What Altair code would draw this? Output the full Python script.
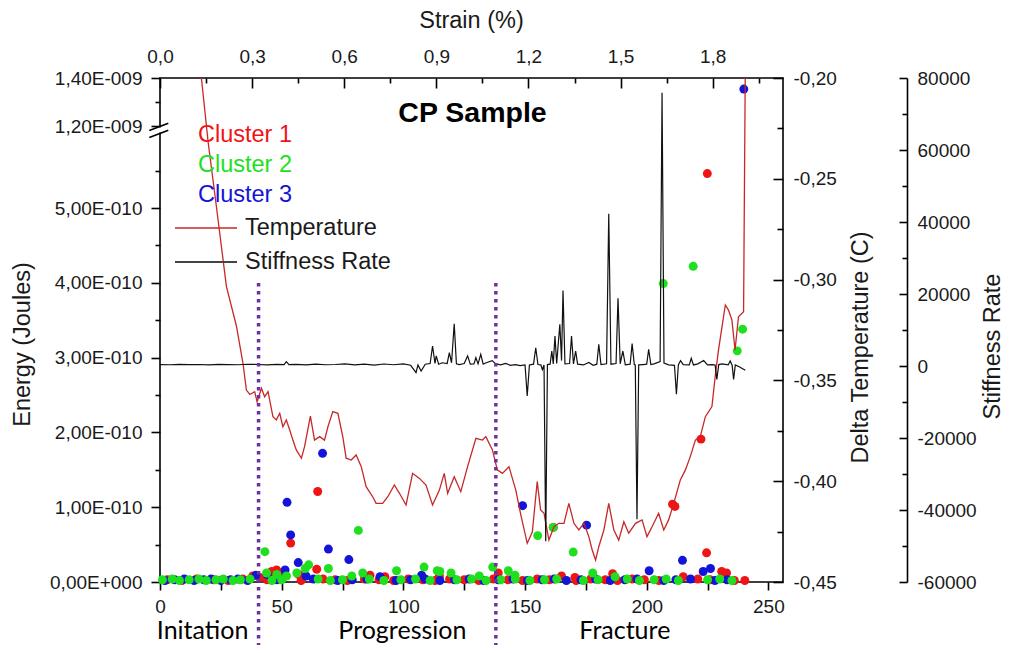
import altair as alt
import pandas as pd

# ---------------- data ----------------
CLUSTERS = ["Cluster 1", "Cluster 2", "Cluster 3"]
CLUSTER_COLORS = ["#f01414", "#1ee01e", "#1414d8"]

# energy in units of 1E-010 J
C1_X = [64.8, 53.7, 47.9, 45.9, 38.1, 64.4, 86.3, 92.4, 114.8, 139.0, 161.6, 165.0, 170.5,
        186.0, 210.6, 211.6, 215.0, 222.3, 224.6, 224.9, 230.8, 232.8, 240.3, 50.0, 57.0, 41.0,
        3, 9, 15, 22, 28, 34, 44, 58, 67, 72, 77, 84, 90, 96, 102, 108, 113, 119, 125, 131,
        137, 143, 149, 155, 160, 171, 177, 183, 188, 194, 199, 205, 221, 226, 236]
C1_E = [1.21, 0.52, 0.16, 0.14, 0.08, 0.17, 0.09, 0.07, 0.08, 0.12, 0.73, 0.08, 0.06,
        0.11, 1.04, 1.01, 0.07, 1.91, 0.39, 5.46, 0.14, 0.12, 0.02, 0.12, 0.10, 0.06,
        0.03, 0.02, 0.04, 0.03, 0.02, 0.04, 0.03, 0.02, 0.04, 0.03, 0.02, 0.04, 0.03, 0.02, 0.04, 0.03,
        0.02, 0.04, 0.03, 0.02, 0.04, 0.03, 0.02, 0.04, 0.03, 0.02, 0.04, 0.03, 0.02, 0.04, 0.03, 0.02,
        0.04, 0.03, 0.02]

C2_X = [43.1, 61.1, 59.7, 69.2, 81.5, 43.8, 56.2, 78.8, 83.3, 97.2, 108.5, 113.9, 115.0, 119.6,
        131.2, 136.7, 143.1, 145.9, 155.2, 161.6, 169.8, 177.8, 187.0, 206.8, 219.1, 237.2, 239.4,
        48.0, 52.0,
        1, 5, 8, 12, 16, 19, 23, 26, 30, 33, 37, 46, 50, 65, 70, 75, 86, 92, 99, 105, 111, 122,
        128, 134, 140, 146, 152, 158, 163, 174, 180, 192, 197, 203, 208, 213, 225, 230, 235]
C2_E = [0.405, 0.23, 0.18, 0.18, 0.69, 0.12, 0.12, 0.08, 0.12, 0.15, 0.20, 0.15, 0.14, 0.12,
        0.08, 0.20, 0.15, 0.09, 0.62, 0.73, 0.40, 0.12, 0.07, 3.99, 4.22, 3.09, 3.38,
        0.10, 0.08,
        0.03, 0.04, 0.02, 0.03, 0.04, 0.02, 0.03, 0.04, 0.02, 0.03, 0.04, 0.02, 0.03, 0.04, 0.02,
        0.03, 0.04, 0.02, 0.03, 0.04, 0.02, 0.03, 0.04, 0.02, 0.03, 0.04, 0.02, 0.03, 0.04, 0.02,
        0.03, 0.04, 0.02, 0.03, 0.04, 0.02, 0.03, 0.04, 0.02]

C3_X = [66.8, 52.2, 53.7, 56.8, 69.2, 77.6, 51.4, 39.4, 90.4, 107.5, 149.0, 175.3, 201.0,
        214.7, 223.2, 226.2, 239.9, 44.0, 60.0,
        2, 6, 10, 14, 18, 21, 25, 29, 32, 36, 48, 63, 73, 79, 85, 97, 103, 109, 115, 121, 127,
        133, 139, 145, 151, 157, 162, 167, 173, 179, 185, 191, 196, 207, 212, 218, 228, 233]
C3_E = [1.72, 1.065, 0.63, 0.26, 0.44, 0.30, 0.16, 0.09, 0.07, 0.09, 1.02, 0.76, 0.15,
        0.29, 0.14, 0.18, 13.54, 0.10, 0.08,
        0.02, 0.03, 0.04, 0.02, 0.03, 0.04, 0.02, 0.03, 0.04, 0.02, 0.03, 0.04, 0.02, 0.03, 0.04,
        0.02, 0.03, 0.04, 0.02, 0.03, 0.04, 0.02, 0.03, 0.04, 0.02, 0.03, 0.04, 0.02, 0.03, 0.04,
        0.02, 0.03, 0.04, 0.02, 0.03, 0.04, 0.02, 0.03]

TEMP_X = [15.6, 17.1, 19.8, 23.2, 27.3, 31.4, 34.1, 35.5, 36.9, 38.9,
          39.9, 41.7, 43.0, 44.4, 46.4, 47.8, 49.2, 50.5, 51.9, 53.3,
          54.6, 56.0, 58.1, 59.4, 61.8, 63.5, 65.6, 67.6, 69.0, 71.0,
          73.1, 75.1, 76.5, 78.6, 80.6, 82.7, 84.7, 87.4, 88.8, 91.5,
          93.6, 96.3, 98.4, 101.1, 103.8, 106.6, 109.3, 112.0, 114.8, 116.8,
          118.2, 120.9, 123.6, 126.4, 129.8, 132.5, 133.9, 136.6, 138.6, 140.7,
          143.4, 146.2, 148.2, 150.9, 153.0, 155.0, 156.4, 157.8, 159.8, 161.9,
          163.9, 166.0, 168.0, 170.1, 172.1, 174.2, 176.2, 177.6, 179.0, 180.3,
          182.4, 184.4, 186.5, 188.5, 190.6, 192.6, 195.4, 198.1, 200.1, 202.2,
          204.9, 207.0, 209.0, 211.1, 213.8, 215.9, 217.9, 220.0, 222.0, 224.1,
          226.8, 228.2, 229.5, 232.3, 233.6, 235.0, 236.3, 237.7, 239.8, 240.5]
TEMP_C = [-0.191, -0.201, -0.232, -0.264, -0.3035, -0.323, -0.3415, -0.3548, -0.357, -0.3556,
          -0.3606, -0.3539, -0.3581, -0.3556, -0.368, -0.3696, -0.3663, -0.373, -0.3696, -0.3746,
          -0.3796, -0.3845, -0.3886, -0.3829, -0.3677, -0.3796, -0.3779, -0.3796, -0.373, -0.3655,
          -0.3663, -0.3779, -0.3886, -0.3895, -0.387, -0.3928, -0.4027, -0.4077, -0.411, -0.411,
          -0.4077, -0.4019, -0.406, -0.4118, -0.3961, -0.3986, -0.4019, -0.4118, -0.4044, -0.3961,
          -0.406, -0.3978, -0.4052, -0.3928, -0.3787, -0.3796, -0.3779, -0.3845, -0.3944, -0.3961,
          -0.3928, -0.4044, -0.4163, -0.4308, -0.4252, -0.4002, -0.4143, -0.4159, -0.4292, -0.4226,
          -0.4209, -0.4209, -0.411, -0.4209, -0.4242, -0.4209, -0.4275, -0.4341, -0.4391, -0.4325,
          -0.4242, -0.411, -0.4242, -0.4292, -0.4201, -0.4258, -0.4209, -0.4192, -0.4275, -0.4226,
          -0.4159, -0.4242, -0.4192, -0.411, -0.3994, -0.3944, -0.3878, -0.3796, -0.3779, -0.368,
          -0.363, -0.3473, -0.3349, -0.3126, -0.3151, -0.32, -0.3349, -0.3184, -0.3159, -0.196]

STIFF_X = [0, 4, 8, 12, 16, 20, 24, 28, 32, 36,
           40, 44, 48, 51, 51.9, 53, 56, 60, 64, 68,
           72, 76, 80, 84, 88, 92, 96, 100, 103, 105.2,
           106, 107.3, 109, 111, 112, 113, 113.5, 114.5, 116, 118,
           118.9, 119.8, 120.9, 121.8, 123, 125, 126.4, 127.5, 129, 129.8,
           130.7, 131.8, 132.8, 134, 136.5, 138, 140, 142, 144, 146,
           148, 150, 150.9, 151.8, 153.5, 154.4, 155.3, 156.5, 157.1, 157.8,
           158.5, 159.2, 160.3, 161.0, 161.6, 162.3, 163, 164.3, 165, 165.6,
           166.4, 168.3, 169.1, 169.9, 170.8, 171.6, 174, 176.2, 178, 179.5,
           180.3, 181.2, 183.5, 184.4, 185.3, 187.4, 188.2, 189.1, 190.2, 191.2,
           193.2, 194.0, 194.9, 195.3, 196.0, 196.7, 198.5, 200.0, 200.8, 201.7,
           203, 205.5, 206.3, 207.1, 209, 211.4, 212.2, 213.0, 213.9, 215,
           217.5, 218.3, 219.2, 221, 223.4, 225, 227, 228.1, 228.8, 229.6,
           231, 233.5, 234.3, 235.1, 235.7, 236.4, 238, 240.5]
STIFF_S = [400, 350, 450, 380, 420, 300, 450, 400, 350, 480,
           420, 300, 450, 400, 1200, 400, 450, 300, 500, 350,
           420, 600, 300, 500, 250, 550, 350, 600, 200, -1860,
           300, -1400, 500, 700, 5560, 700, 2800, 500, 900, 700,
           3700, 900, 11750, 600, 400, 700, 2800, 500, 600, 2300,
           600, 3250, 500, 900, 1500, 600, 300, 700, 200, 400,
           100, 300, -8330, 300, 500, 5080, 400, 300, -1000, 300,
           -48700, 400, 500, 4170, 600, 8330, 700, 11580, 1500, 21000,
           600, 700, 8330, 600, 4170, 500, 300, 1000, 200, 500,
           6030, 400, 600, 42300, 500, 700, 18800, 600, 4170, 300,
           500, 6200, 400, 300, -42600, 300, 400, 500, 4640, 400,
           600, 1200, 75900, 800, 300, 200, -7870, 300, 1500, 400,
           300, 2140, 300, 600, 1500, 300, 400, 300, -3700, 400,
           600, 300, 1400, 200, -3700, 300, -200, -1200]

PHASE_X = [17.5, 99.6, 191.0]
PHASE_LABELS = ["Initation", "Progression", "Fracture"]
PHASE_LINES_X = [40.5, 138.0]

TIME_MAJOR = [0, 50, 100, 150, 200, 250]
TIME_LABELS = ["0", "50", "100", "150", "200", "250"]
TIME_MINOR = [25, 75, 125, 175, 225]

ENERGY_MAJOR = [0, 1, 2, 3, 4, 5, 12, 14]
ENERGY_LABELS = ["0,00E+000", "1,00E-010", "2,00E-010", "3,00E-010", "4,00E-010",
                 "5,00E-010", "1,20E-009", "1,40E-009"]
ENERGY_MINOR = [0.5, 1.5, 2.5, 3.5, 4.5, 5.5, 13]

TEMP_MAJOR = [-0.45, -0.40, -0.35, -0.30, -0.25, -0.20]
TEMP_LABELS = ["-0,45", "-0,40", "-0,35", "-0,30", "-0,25", "-0,20"]
TEMP_MINOR = [-0.425, -0.375, -0.325, -0.275, -0.225]

STIFF_MAJOR = [-60000, -40000, -20000, 0, 20000, 40000, 60000, 80000]
STIFF_LABELS = ["-60000", "-40000", "-20000", "0", "20000", "40000", "60000", "80000"]
STIFF_MINOR = [-50000, -30000, -10000, 10000, 30000, 50000, 70000]

STRAIN_MAJOR = [0.0, 0.3, 0.6, 0.9, 1.2, 1.5, 1.8]
STRAIN_LABELS = ["0,0", "0,3", "0,6", "0,9", "1,2", "1,5", "1,8"]
STRAIN_MINOR = [0.15, 0.45, 0.75, 1.05, 1.35, 1.65, 1.95]

LEGEND_LINE_LABELS = ["Temperature", "Stiffness Rate"]

# ---------------- helpers ----------------
FONT = "Liberation Sans"
TXT = "#1a1a1a"
TEMP_COLOR = "#c62828"
W, H = 623, 504


def lab_expr(vals, labs, eps):
    parts = [f"abs(datum.value - ({v})) < {eps} ? '{l}'" for v, l in zip(vals, labs)]
    return " : ".join(parts) + " : ''"


def tick_size(vals, eps, major, minor):
    test = " || ".join(f"abs(datum.value - ({v})) < {eps}" for v in vals)
    return {"condition": {"test": test, "value": major}, "value": minor}


common = dict(grid=False, labelFont=FONT, labelFontSize=19, labelColor=TXT, tickColor="black",
              tickWidth=1.6, labelFlush=False, labelOverlap=False, titleFont=FONT,
              titleFontSize=23.5, titleFontWeight="normal", titleColor=TXT)

xs = alt.Scale(domain=[0, 256], nice=False, zero=False)

bottom_axis = alt.Axis(orient="bottom", values=TIME_MAJOR + TIME_MINOR,
                       labelExpr=lab_expr(TIME_MAJOR, TIME_LABELS, 0.5), tickSize=8,
                       domain=False, labelPadding=16.5, labelBaseline="middle", title="", **common)

energy_axis = alt.Axis(orient="left", values=ENERGY_MAJOR + ENERGY_MINOR,
                       labelExpr=lab_expr(ENERGY_MAJOR, ENERGY_LABELS, 0.01),
                       tickSize=tick_size(ENERGY_MAJOR, 0.01, 9, 5), domain=False, labelPadding=9,
                       title="Energy (Joules)", titleX=-138, titleY=266, titleAngle=270,
                       titleAlign="center", titleBaseline="middle", **common)

temp_axis = alt.Axis(orient="left", offset=-W, values=TEMP_MAJOR + TEMP_MINOR,
                     labelExpr=lab_expr(TEMP_MAJOR, TEMP_LABELS, 0.001),
                     tickSize=tick_size(TEMP_MAJOR, 0.001, 10, 6), domain=False,
                     labelAlign="left", labelPadding=-20,
                     title="Delta Temperature (C)", titleX=77, titleY=269, titleAngle=270,
                     titleAlign="center", titleBaseline="middle", **common)

stiff_axis = alt.Axis(orient="left", offset=-(W + 124), values=STIFF_MAJOR + STIFF_MINOR,
                      labelExpr=lab_expr(STIFF_MAJOR, STIFF_LABELS, 1),
                      tickSize=tick_size(STIFF_MAJOR, 1, 8, 5), domain=True, domainColor="black",
                      domainWidth=1.6, labelAlign="left", labelPadding=-18,
                      title="Stiffness Rate", titleX=85, titleY=268, titleAngle=270,
                      titleAlign="center", titleBaseline="middle", **common)

strain_axis = alt.Axis(orient="bottom", offset=-H, values=STRAIN_MAJOR + STRAIN_MINOR,
                       labelExpr=lab_expr(STRAIN_MAJOR, STRAIN_LABELS, 0.01),
                       tickSize=tick_size(STRAIN_MAJOR, 0.01, 10, 5), domain=False,
                       labelPadding=-32, labelBaseline="middle",
                       title="Strain (%)", titleX=311, titleY=-58, titleAngle=0,
                       titleAlign="center", titleBaseline="middle", **common)

# ---------------- frames ----------------
rows = []
for name, xv, ev in [("Cluster 1", C1_X, C1_E), ("Cluster 3", C3_X, C3_E), ("Cluster 2", C2_X, C2_E)]:
    rows += [{"cluster": name, "x": a, "e": b} for a, b in zip(xv, ev)]
pts = pd.DataFrame(rows)
tdf = pd.DataFrame({"x": TEMP_X, "t": TEMP_C})
sdf = pd.DataFrame({"x": STIFF_X, "s": STIFF_S})
one = pd.DataFrame({"a": [0]})

# ---------------- layers ----------------
points = alt.Chart(pts).mark_circle(size=80, opacity=1).encode(
    x=alt.X("x:Q", scale=xs, axis=bottom_axis),
    y=alt.Y("e:Q", scale=alt.Scale(domain=[0, 6.0, 11.8, 14.0], range=[H, 55.2, 52.8, 0],
                                    nice=False, zero=False), axis=energy_axis),
    color=alt.Color("cluster:N", scale=alt.Scale(domain=CLUSTERS, range=CLUSTER_COLORS), legend=None),
)

temp = alt.Chart(tdf).mark_line(color=TEMP_COLOR, strokeWidth=1.3, clip=True).encode(
    x=alt.X("x:Q", scale=xs, axis=None),
    y=alt.Y("t:Q", scale=alt.Scale(domain=[-0.45, -0.20], nice=False, zero=False), axis=temp_axis),
)

stiff = alt.Chart(sdf).mark_line(color="#111111", strokeWidth=1.2, clip=True).encode(
    x=alt.X("x:Q", scale=xs, axis=None),
    y=alt.Y("s:Q", scale=alt.Scale(domain=[-60000, 80000], nice=False, zero=False), axis=stiff_axis),
)

top = alt.Chart(pd.DataFrame({"s": STRAIN_MAJOR})).mark_point(opacity=0).encode(
    x=alt.X("s:Q", scale=alt.Scale(domain=[0, 2.029], nice=False, zero=False), axis=strain_axis),
)

prules = alt.Chart(pd.DataFrame({"x": PHASE_LINES_X})).mark_rule(
    color="#7030a0", strokeWidth=3.5, strokeDash=[3.5, 4.5]).encode(
    x=alt.X("x:Q", scale=xs, axis=None), y=alt.value(205), y2=alt.value(567))

ptext = alt.Chart(pd.DataFrame({"x": PHASE_X, "label": PHASE_LABELS})).mark_text(
    font="Lato", fontSize=25, baseline="alphabetic", align="center", color="black").encode(
    x=alt.X("x:Q", scale=xs, axis=None), y=alt.value(561), text="label:N")

annots = []
annots.append(alt.Chart(one).mark_text(font=FONT, fontSize=28.5, fontWeight="bold", color="black",
                                       align="center", baseline="alphabetic").encode(
    x=alt.value(312.5), y=alt.value(43.7), text=alt.value("CP Sample")))

for i, (lab, col) in enumerate(zip(CLUSTERS, CLUSTER_COLORS)):
    annots.append(alt.Chart(one).mark_text(font=FONT, fontSize=23.5, color=col, align="left",
                                           baseline="middle").encode(
        x=alt.value(38), y=alt.value(57 + 30 * i), text=alt.value(lab)))

for i, (lab, col, wd) in enumerate(zip(LEGEND_LINE_LABELS, [TEMP_COLOR, "#444444"], [1.3, 2.0])):
    yy = 150 + 34 * i
    annots.append(alt.Chart(one).mark_rule(color=col, strokeWidth=wd).encode(
        x=alt.value(15), x2=alt.value(77), y=alt.value(yy)))
    annots.append(alt.Chart(one).mark_text(font=FONT, fontSize=23.5, color=TXT, align="left",
                                           baseline="middle").encode(
        x=alt.value(85), y=alt.value(yy), text=alt.value(lab)))

# axis break marks
annots.append(alt.Chart(one).mark_rule(color="white", strokeWidth=4).encode(
    x=alt.value(0), y=alt.value(49.5), y2=alt.value(54.5)))
for y1 in [52.6, 59.6]:
    annots.append(alt.Chart(one).mark_rule(color="black", strokeWidth=1.6).encode(
        x=alt.value(-10.7), x2=alt.value(8.3), y=alt.value(y1), y2=alt.value(y1 - 7.3)))

chart = alt.layer(points, temp, stiff, top, prules, ptext, *annots).resolve_scale(
    x="independent", y="independent"
).properties(
    width=W, height=H,
    autosize=alt.AutoSizeParams(type="none"),
    padding={"left": 152, "top": 70, "right": 223, "bottom": 63},
).configure_view(stroke="black", strokeWidth=1.6)

chart.save("out.html", embed_options={"renderer": "svg", "actions": False})
